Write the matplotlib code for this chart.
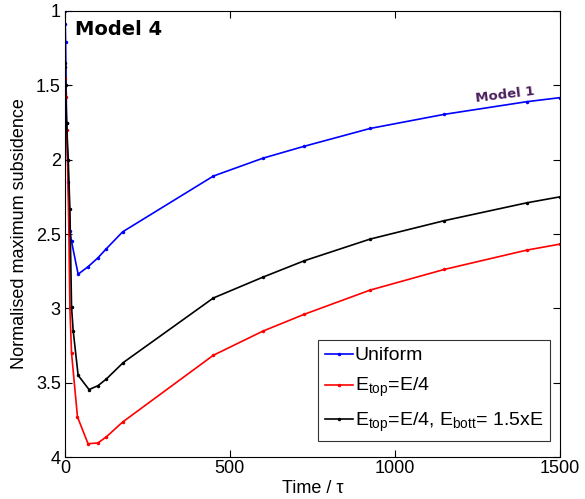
import numpy as np
import matplotlib
matplotlib.use("Agg")
import matplotlib.pyplot as plt

plt.rcParams['font.family'] = ['Liberation Sans', 'DejaVu Sans']
plt.rcParams['mathtext.fontset'] = 'custom'
plt.rcParams['mathtext.rm'] = 'Liberation Sans'
plt.rcParams['mathtext.it'] = 'Liberation Sans'

# time samples (tau)
t_uniform = [0, 1, 2, 5, 10, 15, 20, 40, 70, 100, 125, 175, 450, 600, 725, 925, 1150, 1400, 1500]
s_uniform = [1.0, 1.09, 1.21, 1.75, 2.15, 2.48, 2.55, 2.77, 2.72, 2.66, 2.60, 2.485,
             2.11, 1.99, 1.91, 1.79, 1.695, 1.61, 1.583]

t_top = [0, 1, 2, 5, 8, 12, 15, 20, 38, 70, 100, 125, 175, 450, 600, 725, 925, 1150, 1400, 1500]
s_top = [1.55, 1.45, 1.58, 1.8, 2.0, 2.5, 3.0, 3.3, 3.73, 3.91, 3.905, 3.865, 3.764,
         3.315, 3.153, 3.04, 2.877, 2.738, 2.608, 2.568]

t_topbott = [0, 1, 2, 5, 10, 15, 20, 25, 40, 73, 100, 125, 177, 450, 600, 725, 925, 1150, 1400, 1500]
s_topbott = [1.35, 1.38, 1.5, 1.75, 2.0, 2.33, 2.99, 3.15, 3.45, 3.546, 3.52, 3.476, 3.364,
             2.93, 2.79, 2.68, 2.534, 2.41, 2.29, 2.25]

labels = ['Uniform', r'E$_{\rm top}$=E/4', r'E$_{\rm top}$=E/4, E$_{\rm bott}$= 1.5xE']

fig = plt.figure(figsize=(5.85, 4.99), dpi=100)
ax = fig.add_axes([0.111, 0.084, 0.846, 0.894])

ax.plot(t_uniform, s_uniform, color='blue', marker='.', markersize=3, lw=1.2, label=labels[0])
ax.plot(t_top, s_top, color='red', marker='.', markersize=3, lw=1.2, label=labels[1])
ax.plot(t_topbott, s_topbott, color='black', marker='.', markersize=3, lw=1.2, label=labels[2])

ax.set_xlim(0, 1500)
ax.set_ylim(4, 1)
ax.set_xticks([0, 500, 1000, 1500])
ax.set_yticks([1, 1.5, 2, 2.5, 3, 3.5, 4])
ax.set_yticklabels(['1', '1.5', '2', '2.5', '3', '3.5', '4'])
ax.tick_params(direction='in', top=True, right=True, labelsize=13, length=5, pad=2)
ax.tick_params(axis='y', pad=3)
ax.set_xlabel('Time / τ', fontsize=13, labelpad=2)
ax.set_ylabel('Normalised maximum subsidence', fontsize=13, labelpad=6)

ax.text(0.02, 0.98, 'Model 4', transform=ax.transAxes, fontsize=14,
        fontweight='bold', va='top', ha='left', family='DejaVu Sans')
ax.text(1333, 1.565, 'Model 1', color='#4b1f5c', fontsize=9.5, fontweight='bold',
        rotation=7, ha='center', va='center', family='DejaVu Sans')

leg = ax.legend(loc='lower right', bbox_to_anchor=(0.98, 0.036), fontsize=14,
                frameon=True, fancybox=False, edgecolor='black', handlelength=1.45,
                handletextpad=0.1, labelspacing=0.6, borderpad=0.35, borderaxespad=0)
leg.get_frame().set_linewidth(0.8)

fig.savefig('out.png', dpi=100)
